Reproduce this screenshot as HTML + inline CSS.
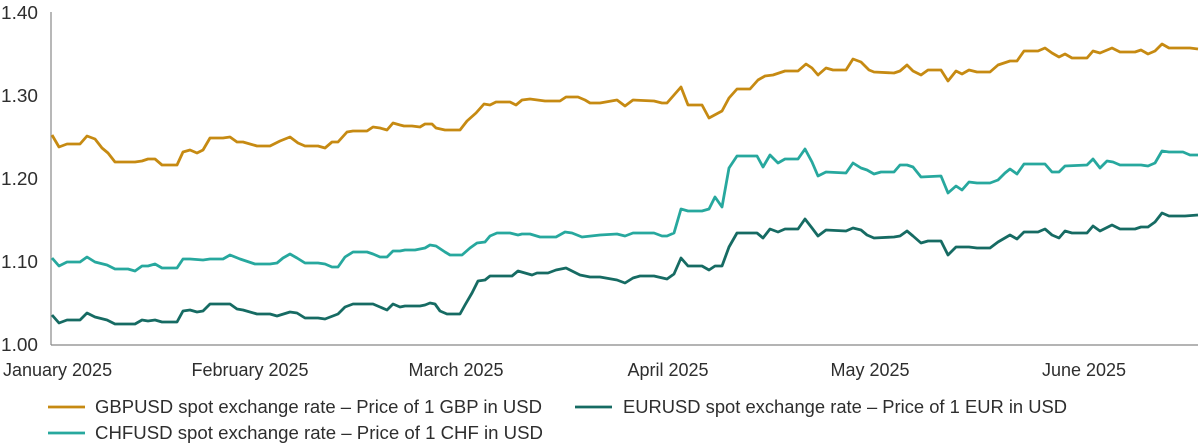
<!DOCTYPE html>
<html><head><meta charset="utf-8"><style>
body{margin:0;background:#fff}
svg{display:block}
text{font-family:"Liberation Sans",sans-serif;fill:#2e2e2e;font-size:18px}
</style></head><body>
<svg width="1200" height="448" viewBox="0 0 1200 448">
<line x1="51" y1="12" x2="51" y2="345" stroke="#888" stroke-width="1.2"/>
<line x1="51" y1="345" x2="1198" y2="345" stroke="#888" stroke-width="1.2"/>
<text x="1" y="19" textLength="37" lengthAdjust="spacingAndGlyphs">1.40</text>
<text x="1" y="102" textLength="37" lengthAdjust="spacingAndGlyphs">1.30</text>
<text x="1" y="185" textLength="37" lengthAdjust="spacingAndGlyphs">1.20</text>
<text x="1" y="268" textLength="37" lengthAdjust="spacingAndGlyphs">1.10</text>
<text x="1" y="351" textLength="37" lengthAdjust="spacingAndGlyphs">1.00</text>
<text x="3" y="376">January 2025</text>
<text x="250" y="376" text-anchor="middle">February 2025</text>
<text x="456" y="376" text-anchor="middle">March 2025</text>
<text x="668" y="376" text-anchor="middle">April 2025</text>
<text x="870" y="376" text-anchor="middle">May 2025</text>
<text x="1084" y="376" text-anchor="middle">June 2025</text>
<g fill="none" stroke-width="2.8" stroke-linejoin="round">
<polyline stroke="#c68a12" points="52,135 59,147 67,144 80,144 87,136 95,139 102,148 108,153 115,162 128,162 135,162 142,161 148,159 155,159 162,165 177,165 183,152 190,150 197,153 203,150 210,138 223,138 230,137 237,142 243,142 257,146 270,146 280,141 290,137 298,143 305,146 318,146 325,148 332,142 338,142 347,132 353,131 367,131 373,127 380,128 387,130 393,123 400,125 404,126 412,126 420,127 425,124 432,124 436,128 445,130 460,130 467,121 476,113 484,104 490,105 496,102 510,102 516,105 522,100 530,99 545,101 560,101 566,97 578,97 585,100 590,103 600,103 617,100 625,106 633,100 654,101 662,103 667,103 681,87 688,105 702,105 709,118 722,111 729,98 737,89 750,89 758,80 765,76 773,75 785,71 798,71 806,64 812,68 818,75 826,68 833,70 846,70 853,59 861,62 869,70 874,72 894,73 900,71 907,65 913,71 921,75 928,70 941,70 948,81 956,71 962,74 969,70 977,72 990,72 998,65 1010,61 1017,61 1024,51 1038,51 1045,48 1052,53 1059,57 1065,54 1072,58 1087,58 1093,51 1100,53 1112,48 1120,52 1135,52 1141,50 1148,54 1155,51 1162,44 1169,48 1185,48 1190,48 1198,49"/>
<polyline stroke="#27a89e" points="52,258 59,266 67,262 80,262 87,257 95,262 107,265 115,269 128,269 135,271 142,266 148,266 155,264 162,268 177,268 183,259 190,259 203,260 210,259 223,259 230,255 240,259 255,264 270,264 277,263 283,258 290,254 297,258 305,263 318,263 325,264 332,267 338,267 345,257 353,252 367,252 373,254 380,257 387,257 393,251 400,251 405,250 415,250 425,248 430,245 436,246 445,252 450,255 462,255 470,248 477,243 485,242 490,236 497,233 510,233 518,235 522,234 530,234 540,237 556,237 565,232 572,233 582,237 600,235 617,234 625,236 633,233 654,233 662,236 667,236 674,233 681,209 688,211 702,211 709,209 715,197 722,207 729,168 737,156 757,156 763,167 770,155 778,163 785,159 798,159 805,149 812,162 818,176 826,172 846,173 853,163 861,168 867,170 874,174 881,172 894,172 900,165 907,165 913,167 921,177 941,176 948,193 956,186 962,190 969,182 977,183 990,183 998,180 1005,173 1010,169 1017,174 1024,164 1045,164 1052,172 1059,172 1065,166 1087,165 1093,159 1100,168 1107,161 1113,162 1120,165 1135,165 1141,165 1148,166 1155,163 1162,151 1169,152 1183,152 1190,155 1198,155"/>
<polyline stroke="#166b63" points="52,315 59,323 67,320 80,320 87,313 95,317 107,320 115,324 135,324 142,320 148,321 155,320 162,322 177,322 183,311 190,310 197,312 203,311 210,304 223,304 230,304 237,309 243,310 257,314 270,314 277,316 290,312 297,313 305,318 318,318 325,319 338,314 345,307 353,304 367,304 373,304 380,307 387,310 393,304 400,307 405,306 420,306 425,305 430,303 435,304 440,311 447,314 460,314 465,305 472,293 478,281 485,280 490,276 496,276 512,276 518,271 525,273 532,275 537,273 548,273 556,270 566,268 572,271 580,275 590,277 600,277 617,280 625,283 633,278 640,276 654,276 667,279 674,274 681,258 688,266 702,266 709,270 715,266 722,266 729,247 737,233 757,233 763,238 770,229 778,232 785,229 798,229 805,219 812,228 818,236 826,230 846,231 853,228 861,230 867,235 874,238 894,237 900,236 907,231 913,236 921,243 928,241 941,241 948,255 956,247 969,247 977,248 990,248 998,242 1010,235 1017,239 1024,232 1038,232 1045,229 1052,235 1059,238 1065,231 1072,233 1087,233 1093,226 1100,231 1112,225 1120,229 1135,229 1141,227 1148,227 1155,222 1162,213 1169,216 1185,216 1198,215"/>
</g>
<line x1="48" y1="407" x2="85" y2="407" stroke="#c68a12" stroke-width="2.8"/>
<text x="95" y="413" textLength="447" lengthAdjust="spacingAndGlyphs">GBPUSD spot exchange rate – Price of 1 GBP in USD</text>
<line x1="575" y1="407" x2="612" y2="407" stroke="#166b63" stroke-width="2.8"/>
<text x="623" y="413" textLength="444" lengthAdjust="spacingAndGlyphs">EURUSD spot exchange rate – Price of 1 EUR in USD</text>
<line x1="48" y1="433" x2="85" y2="433" stroke="#27a89e" stroke-width="2.8"/>
<text x="95" y="439" textLength="448" lengthAdjust="spacingAndGlyphs">CHFUSD spot exchange rate – Price of 1 CHF in USD</text>
</svg>
</body></html>
